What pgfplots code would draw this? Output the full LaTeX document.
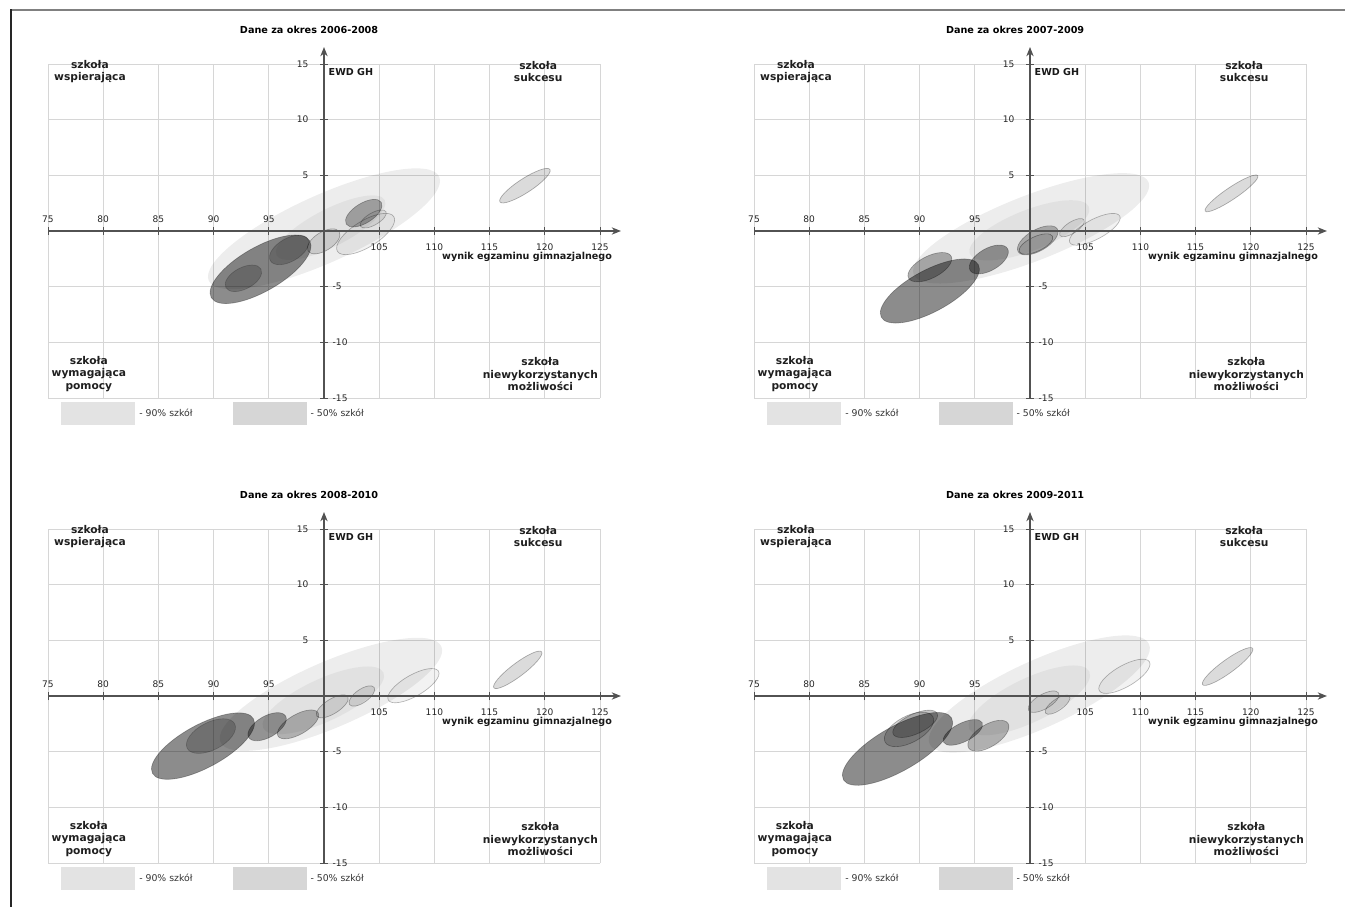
\documentclass[border=0pt]{standalone}
\usepackage{pgfplots}
\pgfplotsset{compat=1.18}
\usepackage{fontspec}
\setmainfont{DejaVu Sans}
\usetikzlibrary{arrows.meta}

\pgfdeclareplotmark{nomark}{}

\tikzset{
  quad/.style={font=\bfseries\fontsize{8}{9.2}\selectfont, align=center, text=black!88},
  lab/.style={font=\bfseries\fontsize{7.2}{8}\selectfont, text=black!90},
}

% The horizontal axis is drawn as (score - 100), so that the vertical axis crosses it at 100.
\pgfplotsset{
  layers/mine/.define layer set={axis background,axis grid,pre main,main,axis ticks,axis lines,axis tick labels,axis descriptions,axis foreground}{
    grid style={/pgfplots/on layer=axis grid},
    tick style={/pgfplots/on layer=axis ticks},
    axis line style={/pgfplots/on layer=axis lines},
    label style={/pgfplots/on layer=axis descriptions},
    legend style={/pgfplots/on layer=axis descriptions},
    title style={/pgfplots/on layer=axis descriptions},
    ticklabel style={/pgfplots/on layer=axis tick labels},
  },
  ell/.style={
    scatter, only marks, mark=nomark, forget plot,
    visualization depends on={value \thisrow{a}\as\eSA},
    visualization depends on={value \thisrow{b}\as\eSB},
    visualization depends on={value \thisrow{ang}\as\eAng},
    visualization depends on={value \thisrow{o}\as\eOp},
    visualization depends on={value \thisrow{s}\as\eSt},
    scatter/@pre marker code/.code={%
      \pgfmathsetlengthmacro{\eRA}{8.28pt*\eSA}%
      \pgfmathsetlengthmacro{\eRB}{8.28pt*\eSB}%
      \pgfscope
      \pgftransformrotate{\eAng}%
      \pgfsetfillcolor{black}\pgfsetstrokecolor{black}%
      \pgfsetfillopacity{\eOp}\pgfsetstrokeopacity{\eSt}%
      \pgfsetlinewidth{0.5pt}%
      \pgfpathellipse{\pgfpointorigin}{\pgfqpoint{\eRA}{0pt}}{\pgfqpoint{0pt}{\eRB}}%
      \pgfusepath{fill,stroke}%
      \endpgfscope
    },
    scatter/@post marker code/.code={},
  },
  ewd/.style={
    set layers=mine,
    scale only axis, width=414pt, height=250.5pt,
    anchor=south west,
    xmin=-25, xmax=25, ymin=-15, ymax=15,
    axis lines=middle,
    axis line style={draw=black!68, line width=0.9pt},
    x axis line style={-{Stealth[length=7pt,width=5.5pt]}, shorten >=-15.75pt},
    y axis line style={-{Stealth[length=7pt,width=5.5pt]}, shorten >=-12.75pt},
    xtick={-25,-20,...,-5}, xticklabels={75,80,85,90,95},
    ytick={5,10,15},
    extra x ticks={0,5,...,25}, extra x tick labels={,105,110,115,120,125},
    extra y ticks={-15,-10,-5,0}, extra y tick labels={-15,-10,-5,},
    extra x tick style={grid=major, every x tick label/.style={anchor=north, yshift=-3.3pt}},
    extra y tick style={grid=major, every y tick label/.style={anchor=west, xshift=6pt}},
    every x tick label/.style={anchor=south, yshift=5.8pt},
    every y tick label/.style={anchor=east, xshift=-5.2pt},
    grid=major, major grid style={draw=black!16, line width=0.6pt},
    tick style={draw=black!68, line width=0.7pt},
    major tick length=6pt, tick align=center,
    tick label style={font=\fontsize{6.8}{8}\selectfont, text=black!85},
    /pgf/number format/assume math mode=true,
    clip=false,
    title style={font=\bfseries\fontsize{7.25}{8}\selectfont, at={(axis description cs:0.473,1)}, anchor=center, yshift=19.5pt},
    legend style={at={(0,0)}, anchor=north west, xshift=9.75pt, yshift=-3pt, draw=none, fill=none, inner sep=0pt, legend columns=2, font=\fontsize{7}{8}\selectfont, /tikz/every even column/.append style={column sep=27pt}, nodes={inner xsep=3pt, inner ysep=0pt, text=black!80}},
    legend image code/.code={\path[#1, draw=none] (0pt,-8.6pt) rectangle (55.5pt,8.6pt);},
  },
}

\newcommand{\quadlabels}{%
  \node[quad] at (axis cs:-21.2,14.3) {szkoła\\wspierająca};
  \node[quad] at (axis cs:19.4,14.3) {szkoła\\sukcesu};
  \node[quad] at (axis cs:-21.3,-12.85) {szkoła\\wymagająca\\pomocy};
  \node[quad] at (axis cs:19.6,-12.85) {szkoła\\niewykorzystanych\\możliwości};
  \node[lab, anchor=west] at (axis cs:0.0,14.3) {EWD GH};
  \node[lab, anchor=east] at (axis cs:26.5,-2.3) {wynik egzaminu gimnazjalnego};
  \addlegendimage{fill=black!11}
  \addlegendentry{- 90\% szkół}
  \addlegendimage{fill=black!16}
  \addlegendentry{- 50\% szkół}
}

\begin{document}
\begin{tikzpicture}
\draw[black!50, line width=1.2pt] (8.25pt,672.75pt) -- (1008.75pt,672.75pt);
\draw[black!85, line width=1pt] (8.25pt,673.3pt) -- (8.25pt,0pt);

% columns: centre x (score), centre y (EWD), semi-axes a, b (score units), angle, fill opacity, stroke opacity
\begin{axis}[ewd, at={(36pt,381.75pt)}, title={Dane za okres 2006-2008}]
  \quadlabels
  \addplot[ell] table[x expr=\thisrow{x}-100, y=y] {
x y a b ang o s
100.0 0.2 11.45 3.05 24.3 0.07 0
100.6 0.3 5.5 1.7 27 0.05 0
94.25 -3.44 5.15 2.0 30 0.45 0.3
92.7 -4.25 1.8 0.97 28 0.2 0.2
96.84 -1.7 1.96 1.05 30 0.2 0.2
99.97 -0.93 1.66 0.84 32 0.1 0.3
103.6 1.6 1.87 0.9 32 0.3 0.3
103.77 -0.27 3.0 1.19 31.6 0.05 0.28
104.46 1.08 1.33 0.55 30 0.08 0.28
118.2 4.07 2.7 0.64 33 0.14 0.3
};
\end{axis}

\begin{axis}[ewd, at={(565.5pt,381.75pt)}, title={Dane za okres 2007-2009}]
  \quadlabels
  \addplot[ell] table[x expr=\thisrow{x}-100, y=y] {
x y a b ang o s
100.1 0.24 11.43 2.96 21.4 0.07 0
99.94 0.06 5.8 1.84 21.5 0.05 0
90.93 -5.39 5.0 1.89 28.4 0.45 0.3
90.93 -3.25 2.17 1.0 27 0.3 0.3
96.27 -2.56 1.96 1.0 30 0.38 0.3
100.7 -0.84 2.05 0.96 30 0.26 0.3
100.54 -1.17 1.66 0.66 25 0.1 0.35
103.8 0.3 1.3 0.51 33 0.08 0.28
105.87 0.15 2.56 0.9 28 0.05 0.28
118.25 3.38 2.87 0.54 34 0.14 0.3
};
\end{axis}

\begin{axis}[ewd, at={(36pt,33pt)}, title={Dane za okres 2008-2010}]
  \quadlabels
  \addplot[ell] table[x expr=\thisrow{x}-100, y=y] {
x y a b ang o s
100.63 0.15 10.9 2.98 23.4 0.07 0
99.94 -0.39 6.0 1.93 24.8 0.05 0
89.04 -4.5 5.2 1.95 28.4 0.45 0.3
89.76 -3.6 2.42 1.25 27.3 0.2 0.2
94.85 -2.76 1.93 0.96 30 0.38 0.3
97.65 -2.55 2.1 0.9 30 0.26 0.3
100.75 -0.93 1.66 0.66 32 0.1 0.3
103.43 0.0 1.36 0.6 35 0.1 0.3
108.1 0.93 2.62 0.96 30 0.05 0.28
117.55 2.35 2.71 0.6 37 0.14 0.3
};
\end{axis}

\begin{axis}[ewd, at={(565.5pt,33pt)}, title={Dane za okres 2009-2011}]
  \quadlabels
  \addplot[ell] table[x expr=\thisrow{x}-100, y=y] {
x y a b ang o s
100.84 0.18 10.92 3.04 24.5 0.07 0
99.94 -0.39 6.03 1.98 25.6 0.05 0
88.0 -4.75 5.64 2.0 29.8 0.45 0.3
89.6 -2.5 2.2 0.9 25 0.22 0.3
89.04 -3.0 2.45 1.2 28 0.16 0.3
93.92 -3.27 1.96 0.84 27 0.38 0.3
96.23 -3.57 2.1 1.0 32 0.26 0.3
101.23 -0.51 1.57 0.66 30 0.1 0.3
102.5 -0.78 1.33 0.51 35 0.1 0.3
108.55 1.77 2.62 0.96 30 0.05 0.28
117.9 2.65 2.8 0.6 36 0.14 0.3
};
\end{axis}
\pgfresetboundingbox
\useasboundingbox (0pt,0pt) rectangle (1008.75pt,680.25pt);
\end{tikzpicture}
\end{document}
